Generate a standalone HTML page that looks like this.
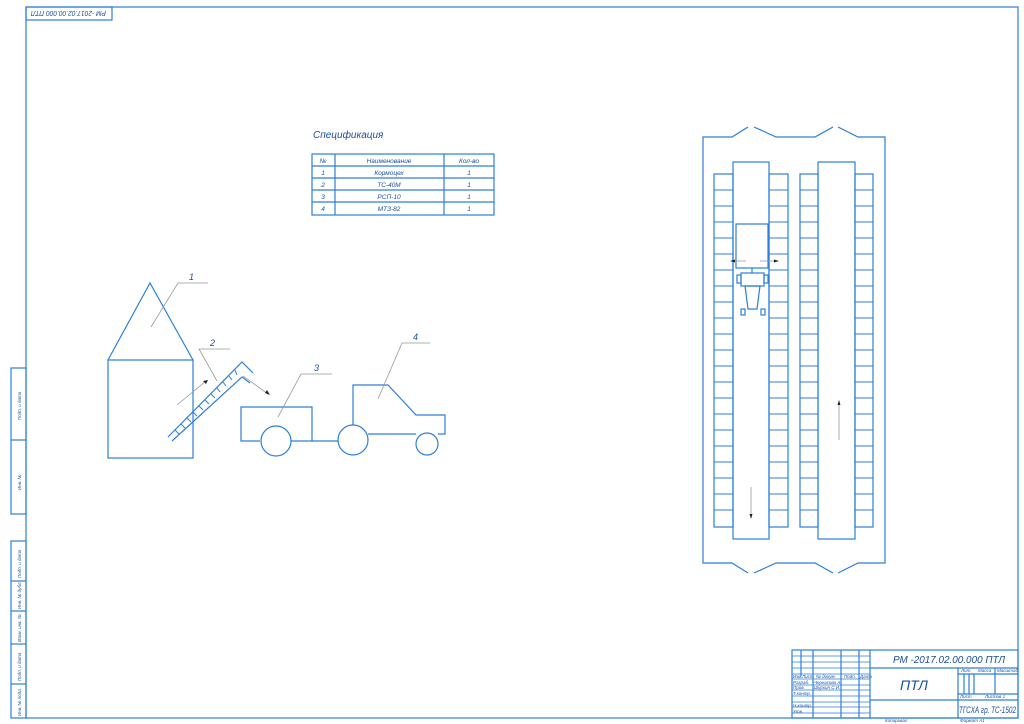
<!DOCTYPE html>
<html><head><meta charset="utf-8"><style>
html,body{margin:0;padding:0;background:#fff;}
svg{display:block;}
text{font-family:"Liberation Sans",sans-serif;font-style:italic;fill:#1a4f9c;}
</style></head><body>
<svg width="1024" height="724" viewBox="0 0 1024 724" xmlns="http://www.w3.org/2000/svg">
<rect x="0" y="0" width="1024" height="724" fill="#fff"/>
<g fill="none" stroke="#2c7fd8" stroke-width="1.2">
<rect x="26" y="7" width="992" height="711"/>
<rect x="26" y="7" width="86" height="13"/>
<rect x="11" y="368" width="15" height="146"/>
<line x1="11" y1="440" x2="26" y2="440"/>
<rect x="11" y="541" width="15" height="177"/>
<line x1="11" y1="581" x2="26" y2="581"/>
<line x1="11" y1="611" x2="26" y2="611"/>
<line x1="11" y1="644" x2="26" y2="644"/>
<line x1="11" y1="684" x2="26" y2="684"/>
<rect x="312" y="154" width="182" height="61"/>
<line x1="335" y1="154" x2="335" y2="215"/>
<line x1="444" y1="154" x2="444" y2="215"/>
<line x1="312" y1="166" x2="494" y2="166"/>
<line x1="312" y1="178" x2="494" y2="178"/>
<line x1="312" y1="190" x2="494" y2="190"/>
<line x1="312" y1="202" x2="494" y2="202"/>
<rect x="108" y="360" width="85" height="98"/>
<polyline points="108,360 150,283 193,360"/>
<polyline points="168,437 242,362 253,373"/>
<polyline points="172,441 242,377 250,383"/>
<polyline points="260,441 241,441 241,407 312,407 312,441 291,441"/>
<circle cx="276" cy="441" r="15"/>
<line x1="312" y1="441" x2="338" y2="441"/>
<circle cx="353" cy="440" r="15"/>
<polyline points="353,425 353,385 388,385 416,415 445,415 445,434 438,434"/>
<line x1="368" y1="434" x2="416" y2="434"/>
<circle cx="427" cy="444" r="11"/>
<polyline points="748,127 732,137 703,137 703,563 732,563 748,573"/>
<polyline points="754,127 776,137 815,137 833,127"/>
<polyline points="838,127 858,137 885,137 885,563 858,563 838,573"/>
<polyline points="754,573 776,563 815,563 833,573"/>
<rect x="733" y="162" width="36" height="377"/>
<rect x="818" y="162" width="37" height="377"/>
<rect x="714" y="174" width="19" height="353"/>
<rect x="769" y="174" width="19" height="353"/>
<rect x="800" y="174" width="18" height="353"/>
<rect x="855" y="174" width="18" height="353"/>
<rect x="736" y="224" width="32" height="44"/>
<line x1="752" y1="268" x2="752" y2="273"/>
<rect x="741" y="273" width="23" height="13"/>
<rect x="737" y="275" width="4" height="8"/>
<rect x="764" y="275" width="4" height="8"/>
<polygon points="745,286 760,286 757,309 748,309"/>
<rect x="741" y="309" width="4" height="6"/>
<rect x="761" y="309" width="4" height="6"/>
<rect x="792" y="650" width="226" height="68"/>
<line x1="870" y1="650" x2="870" y2="718"/>
<line x1="801" y1="650" x2="801" y2="676"/>
<line x1="813" y1="650" x2="813" y2="718"/>
<line x1="841" y1="650" x2="841" y2="718"/>
<line x1="859" y1="650" x2="859" y2="718"/>
<line x1="870" y1="668" x2="1018" y2="668"/>
<line x1="870" y1="700" x2="1018" y2="700"/>
<line x1="958" y1="668" x2="958" y2="718"/>
<line x1="974" y1="674" x2="974" y2="694"/>
<line x1="995" y1="668" x2="995" y2="694"/>
<line x1="958" y1="674" x2="1018" y2="674"/>
<line x1="958" y1="694" x2="1018" y2="694"/>
<line x1="964" y1="674" x2="964" y2="694"/>
<line x1="969" y1="674" x2="969" y2="694"/>
</g>
<g stroke="#2c7fd8" stroke-width="0.8">
<line x1="792" y1="656" x2="870" y2="656"/>
<line x1="792" y1="662" x2="870" y2="662"/>
<line x1="792" y1="668" x2="870" y2="668"/>
<line x1="792" y1="674" x2="870" y2="674"/>
<line x1="792" y1="679" x2="870" y2="679"/>
<line x1="792" y1="685" x2="870" y2="685"/>
<line x1="792" y1="690" x2="870" y2="690"/>
<line x1="792" y1="696" x2="870" y2="696"/>
<line x1="792" y1="702" x2="870" y2="702"/>
<line x1="792" y1="707" x2="870" y2="707"/>
<line x1="792" y1="713" x2="870" y2="713"/>
</g>
<g stroke="#2c7fd8" stroke-width="1">
<line x1="175" y1="430" x2="179" y2="434"/><line x1="181" y1="424" x2="185" y2="428"/>
<line x1="187" y1="418" x2="191" y2="422"/><line x1="193" y1="412" x2="197" y2="416"/>
<line x1="199" y1="406" x2="203" y2="410"/><line x1="205" y1="400" x2="209" y2="404"/>
<line x1="211" y1="394" x2="215" y2="398"/><line x1="217" y1="388" x2="220" y2="392"/>
<line x1="223" y1="382" x2="226" y2="386"/><line x1="229" y1="376" x2="232" y2="380"/>
<line x1="235" y1="370" x2="237" y2="375"/>
</g>
<g stroke="#2c7fd8" stroke-width="1">
<path d="M714 190H733M769 190H788M800 190H818M855 190H873
M714 206H733M769 206H788M800 206H818M855 206H873
M714 222H733M769 222H788M800 222H818M855 222H873
M714 238H733M769 238H788M800 238H818M855 238H873
M714 254H733M769 254H788M800 254H818M855 254H873
M714 270H733M769 270H788M800 270H818M855 270H873
M714 286H733M769 286H788M800 286H818M855 286H873
M714 302H733M769 302H788M800 302H818M855 302H873
M714 318H733M769 318H788M800 318H818M855 318H873
M714 334H733M769 334H788M800 334H818M855 334H873
M714 350H733M769 350H788M800 350H818M855 350H873
M714 366H733M769 366H788M800 366H818M855 366H873
M714 382H733M769 382H788M800 382H818M855 382H873
M714 398H733M769 398H788M800 398H818M855 398H873
M714 414H733M769 414H788M800 414H818M855 414H873
M714 430H733M769 430H788M800 430H818M855 430H873
M714 446H733M769 446H788M800 446H818M855 446H873
M714 462H733M769 462H788M800 462H818M855 462H873
M714 478H733M769 478H788M800 478H818M855 478H873
M714 494H733M769 494H788M800 494H818M855 494H873
M714 510H733M769 510H788M800 510H818M855 510H873"/>
</g>
<g stroke="#999" stroke-width="0.8" fill="none">
<polyline points="151,327 178,283 208,283"/>
<polyline points="217,381 199,349 230,349"/>
<polyline points="278,417 301,374 332,374"/>
<polyline points="378,399 402,343 430,343"/>
<line x1="177" y1="405" x2="206" y2="381"/>
<line x1="243" y1="376" x2="268" y2="394"/>
<line x1="746" y1="261" x2="734" y2="261"/>
<line x1="760" y1="261" x2="775" y2="261"/>
<line x1="751" y1="487" x2="751" y2="515"/>
<line x1="839" y1="404" x2="839" y2="440"/>
</g>
<g fill="#222">
<polygon points="208,380 203,381 206,384"/>
<polygon points="270,395 265,393 267,390"/>
<polygon points="730,261 735,259.5 735,262.5"/>
<polygon points="779,261 774,259.5 774,262.5"/>
<polygon points="751,519 749.5,514 752.5,514"/>
<polygon points="839,400 837.5,405 840.5,405"/>
</g>
<text x="313" y="138" font-size="10">Спецификация</text>
<g font-size="6.5" text-anchor="middle">
<text x="323" y="163">№</text><text x="389" y="163">Наименование</text><text x="469" y="163">Кол-во</text>
<text x="323" y="175">1</text><text x="389" y="175">Кормоцех</text><text x="469" y="175">1</text>
<text x="323" y="187">2</text><text x="389" y="187">ТС-40М</text><text x="469" y="187">1</text>
<text x="323" y="199">3</text><text x="389" y="199">РСП-10</text><text x="469" y="199">1</text>
<text x="323" y="211">4</text><text x="389" y="211">МТЗ-82</text><text x="469" y="211">1</text>
</g>
<g font-size="9">
<text x="189" y="280">1</text><text x="210" y="346">2</text><text x="314" y="371">3</text><text x="413" y="340">4</text>
</g>
<text x="0" y="0" font-size="7" textLength="75" lengthAdjust="spacingAndGlyphs" transform="translate(106,11) rotate(180)">РМ -2017.02.00.000 ПТЛ</text>
<text x="893" y="663" font-size="10" textLength="112" lengthAdjust="spacingAndGlyphs">РМ -2017.02.00.000 ПТЛ</text>
<text x="900" y="690" font-size="14">ПТЛ</text>
<text x="959" y="713" font-size="9" textLength="57" lengthAdjust="spacingAndGlyphs">ТГСХА гр. ТС-1502</text>
<g font-size="4.5">
<text x="793" y="678">Изм.</text><text x="802" y="678">Лист</text><text x="816" y="678">№ докум.</text><text x="844" y="678">Подп.</text><text x="860" y="678">Дата</text>
<text x="793" y="684">Разраб.</text><text x="814" y="684">Черкасова А.</text>
<text x="793" y="689">Пров.</text><text x="814" y="689">Шуркин С.И.</text>
<text x="793" y="695">Т.контр.</text>
<text x="793" y="707">Н.контр.</text><text x="793" y="713">Утв.</text>
<text x="961" y="672">Лит.</text><text x="978" y="672">Масса</text><text x="997" y="672">Масштаб</text>
<text x="960" y="698">Лист</text><text x="985" y="698">Листов   1</text>
<text x="885" y="722">Копировал</text><text x="960" y="722">Формат  А1</text>
</g>
<g font-size="4.5">
<text transform="translate(21,420) rotate(-90)">Подп. и дата</text>
<text transform="translate(21,490) rotate(-90)">Инв. №</text>
<text transform="translate(21,578) rotate(-90)">Подп. и дата</text>
<text transform="translate(21,609) rotate(-90)">Инв. № дубл.</text>
<text transform="translate(21,642) rotate(-90)">Взам. инв. №</text>
<text transform="translate(21,681) rotate(-90)">Подп. и дата</text>
<text transform="translate(21,716) rotate(-90)">Инв. № подл.</text>
</g>
</svg>
</body></html>
